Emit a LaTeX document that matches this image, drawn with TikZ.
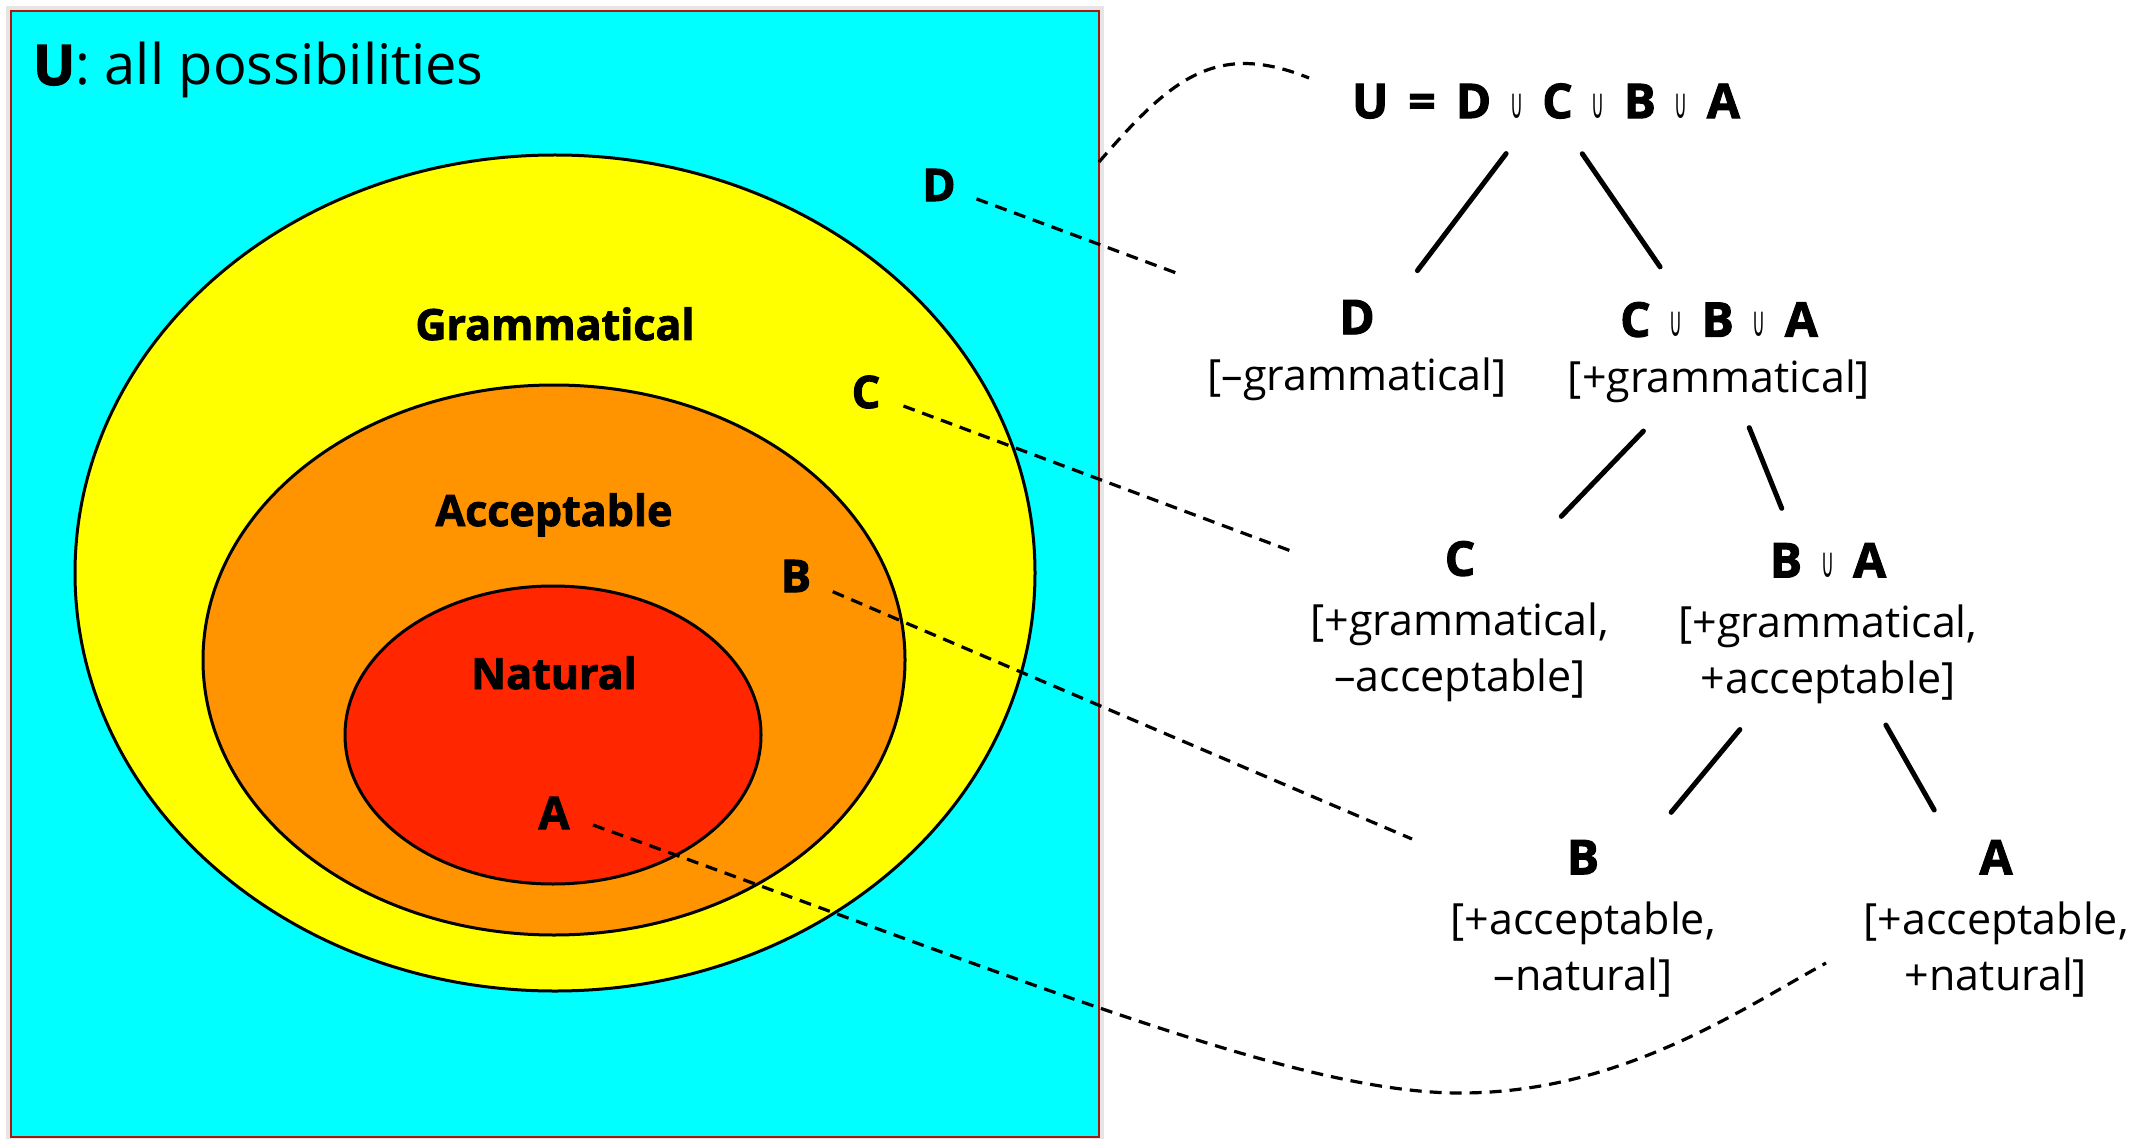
\documentclass[tikz,border=0pt]{standalone}
\usepackage{fontspec}
\setmainfont{Open Sans}[BoldFeatures={FakeBold=2}]
\newfontfamily\symfont{DejaVu Sans}
\usetikzlibrary{calc}

\definecolor{skycyan}{RGB}{0,255,255}
\definecolor{gramyellow}{RGB}{255,255,0}
\definecolor{accorange}{RGB}{255,147,0}
\definecolor{natred}{RGB}{255,38,0}
\definecolor{framered}{RGB}{165,25,15}

% thin union sign used between the set letters
\newcommand{\un}{\hspace{19pt}{\symfont\fontsize{42}{42}\selectfont\scalebox{0.42}[1]{∪}}\hspace{19pt}}
\newcommand{\setletter}[1]{{\fontsize{48}{48}\selectfont\bfseries #1}}

\tikzset{
  every node/.style={inner sep=0pt, outer sep=0pt},
  venn/.style={draw=black, line width=3pt},
  regionlab/.style={font=\fontsize{43}{43}\selectfont\bfseries, anchor=base},
  pointlab/.style={font=\fontsize{45}{45}\selectfont\bfseries},
  treenode/.style={align=center, anchor=north, font=\fontsize{43}{56}\selectfont},
  branch/.style={line width=5pt, line cap=round},
  link/.style={line width=3.2pt, dash pattern=on 12pt off 8pt},
}

\begin{document}
\begin{tikzpicture}[x=1pt, y=-1pt]
\useasboundingbox (0,0) rectangle (2149,1139);

% universe box with a soft edge
\fill[black!10] (6,6) rectangle (1104,1139);
\node[draw=framered, fill=skycyan, line width=2pt, anchor=north west,
      minimum width=1088pt, minimum height=1126pt] (box) at (11,11) {};

% nested sets
\draw[venn, fill=gramyellow] (555,573) ellipse [x radius=480pt, y radius=418pt];
\draw[venn, fill=accorange]  (554,660) ellipse [x radius=351pt, y radius=275pt];
\draw[venn, fill=natred]     (553,735) ellipse [x radius=208pt, y radius=149pt];

\node[anchor=base west, font=\fontsize{56}{56}\selectfont] (title) at (33,85)
  {\textbf{U}: all possibilities};

\node[regionlab] (gram) at (555,340) {Grammatical};
\node[regionlab] (acc)  at (554,526) {Acceptable};
\node[regionlab] (nat)  at (554,689) {Natural};

\node[pointlab] (vD) at (939,185) {D};
\node[pointlab] (vC) at (866,392) {C};
\node[pointlab] (vB) at (796,576) {B};
\node[pointlab] (vA) at (554,813) {A};

% feature tree
\node (root) at (1546,101)
  {\setletter{U}\hspace{20pt}\setletter{=}\hspace{20pt}\setletter{D}\un\setletter{C}\un\setletter{B}\un\setletter{A}};
\node[treenode] (nD)   at (1357,300) {\setletter{D}\\{}[–grammatical]};
\node[treenode] (nCBA) at (1719,302) {\setletter{C}\un\setletter{B}\un\setletter{A}\\{}[+grammatical]};
\node[treenode] (nC)   at (1460,541) {\setletter{C}\\[4pt]{}[+grammatical,\\–acceptable]};
\node[treenode] (nBA)  at (1828,543) {\setletter{B}\un\setletter{A}\\[4pt]{}[+grammatical,\\+acceptable]};
\node[treenode] (nB)   at (1583,840) {\setletter{B}\\[4pt]{}[+acceptable,\\–natural]};
\node[treenode] (nA)   at (1996,840) {\setletter{A}\\[4pt]{}[+acceptable,\\+natural]};

\draw[branch, shorten <=66pt, shorten >=100pt] (root.center) -- (nD.center);
\draw[branch, shorten <=64pt, shorten >=104pt] (root.center) -- (nCBA.center);
\draw[branch, shorten <=109pt, shorten >=146pt] (nCBA.center) -- (nC.center);
\draw[branch, shorten <=81pt, shorten >=124pt] (nCBA.center) -- (nBA.center);
\draw[branch, shorten <=138pt, shorten >=138pt] (nBA.center) -- (nB.center);
\draw[branch, shorten <=117pt, shorten >=125pt] (nBA.center) -- (nA.center);

% dashed links from the regions to the tree
\coordinate (uStart) at ($(box.north east)+(0,151)$);
\coordinate (uEnd) at (1309,78);
\coordinate (dEnd) at (1179,274);
\coordinate (cEnd) at (1291,551);
\coordinate (bEnd) at (1412,839);
\coordinate (aLow) at (1460,1093);
\coordinate (aEnd) at (1826,963);

\draw[link] (uStart) .. controls (1170,80) and (1215,40) .. (uEnd);
\draw[link, shorten <=40pt] (vD.center) -- (dEnd);
\draw[link, shorten <=40pt] (vC.center) -- (cEnd);
\draw[link, shorten <=40pt] (vB.center) -- (bEnd);
\draw[link] ($(vA.center)+(39,12)$) .. controls (1050,990) and (1300,1093) .. (aLow)
  .. controls (1620,1093) and (1740,1010) .. (aEnd);
\end{tikzpicture}
\end{document}
